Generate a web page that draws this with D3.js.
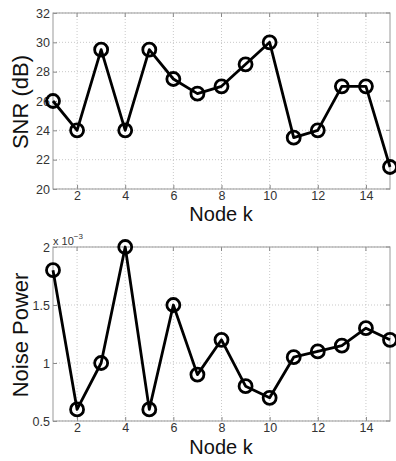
<!DOCTYPE html>
<html><head><meta charset="utf-8">
<script src="https://cdn.jsdelivr.net/npm/d3@7"></script>
<style>body{margin:0;background:#fff;} svg{display:block;font-family:"Liberation Sans",Arial,sans-serif;}</style>
</head><body>
<svg id="c" width="396" height="461"></svg>
<script>
const nodes = [1,2,3,4,5,6,7,8,9,10,11,12,13,14,15];
const snr = [26,24,29.5,24,29.5,27.5,26.5,27,28.5,30,23.5,24,27,27,21.5];
const noise = [1.8,0.6,1.0,2.0,0.6,1.5,0.9,1.2,0.8,0.7,1.05,1.1,1.15,1.3,1.2];
const xTicks = [2,4,6,8,10,12,14];
const snrTicks = [20,22,24,26,28,30,32];
const noiseTicks = [0.5,1,1.5,2];

const svg = d3.select("#c");
const left = 53, right = 390;
const x = d3.scaleLinear().domain([1,15]).range([left,right]);

function panel(top, bottom, domain, yTicks, values, ylab, ylabY, xlabY, fmt) {
  const y = d3.scaleLinear().domain(domain).range([bottom, top]);
  const g = svg.append("g");
  // grid
  g.selectAll(".gx").data(xTicks).join("line")
    .attr("x1", d=>x(d)).attr("x2", d=>x(d)).attr("y1", top).attr("y2", bottom)
    .attr("stroke", "#bbb").attr("stroke-width", 0.8).attr("stroke-dasharray", "1,2");
  g.selectAll(".gy").data(yTicks).join("line")
    .attr("x1", left).attr("x2", right).attr("y1", d=>y(d)).attr("y2", d=>y(d))
    .attr("stroke", "#bbb").attr("stroke-width", 0.8).attr("stroke-dasharray", "1,2");
  // axes
  const ax = d3.axisBottom(x).tickValues(xTicks).tickSize(-4).tickPadding(2).tickFormat(d3.format("d"));
  const gx = g.append("g").attr("transform", `translate(0,${bottom})`).call(ax);
  const ay = d3.axisLeft(y).tickValues(yTicks).tickSize(-4).tickPadding(3).tickFormat(fmt);
  const gy = g.append("g").attr("transform", `translate(${left},0)`).call(ay);
  [gx, gy].forEach(a => {
    a.select(".domain").remove();
    a.selectAll("line").attr("stroke", "#888");
    a.selectAll("text").attr("font-size", 12.5).attr("fill", "#333").attr("font-family", "Liberation Sans, Arial, sans-serif");
  });
  // right/top ticks
  g.selectAll(".rt").data(yTicks).join("line")
    .attr("x1", right).attr("x2", right-4).attr("y1", d=>y(d)).attr("y2", d=>y(d)).attr("stroke", "#888");
  g.selectAll(".tt").data(xTicks).join("line")
    .attr("x1", d=>x(d)).attr("x2", d=>x(d)).attr("y1", top).attr("y2", top+4).attr("stroke", "#888");
  // box
  g.append("rect").attr("x", left).attr("y", top).attr("width", right-left).attr("height", bottom-top)
    .attr("fill", "none").attr("stroke", "#999").attr("stroke-width", 1);
  // line
  const line = d3.line().x((d,i)=>x(nodes[i])).y(d=>y(d));
  g.append("path").datum(values).attr("d", line).attr("fill", "none")
    .attr("stroke", "#000").attr("stroke-width", 2.8).attr("stroke-linejoin", "round");
  g.selectAll(".pt").data(values).join("circle")
    .attr("cx", (d,i)=>x(nodes[i])).attr("cy", d=>y(d)).attr("r", 6.5)
    .attr("fill", "none").attr("stroke", "#000").attr("stroke-width", 2.8);
  // labels
  g.append("text").attr("x", 221).attr("y", xlabY).attr("text-anchor", "middle")
    .attr("font-size", 20).attr("fill", "#111").text("Node k");
  g.append("text").attr("transform", `translate(28,${ylabY}) rotate(-90)`)
    .attr("text-anchor", "middle").attr("font-size", 22).attr("fill", "#111").text(ylab);
  return y;
}

panel(13, 189, [20,32], snrTicks, snr, "SNR (dB)", 102, 221, d3.format("d"));
panel(247, 421, [0.5,2], noiseTicks, noise, "Noise Power", 335, 454, d=>String(d));

const ex = svg.append("text").attr("x", 53).attr("y", 245).attr("font-size", 11).attr("fill", "#333");
ex.append("tspan").text("x 10");
ex.append("tspan").attr("dy", -6).attr("font-size", 8).text("\u22123");
</script>
</body></html>
